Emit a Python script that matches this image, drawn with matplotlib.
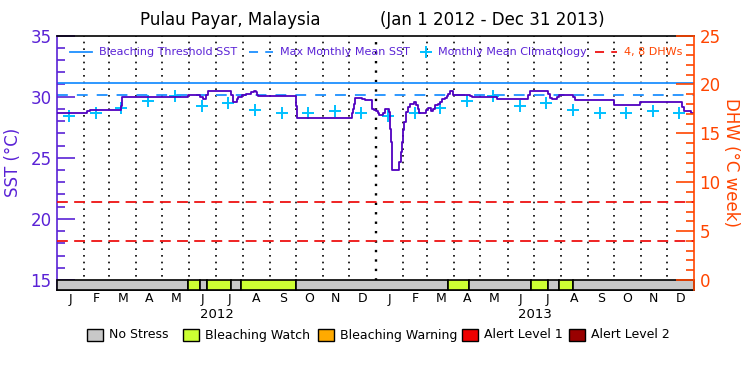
import numpy as np
import pandas as pd
import matplotlib
matplotlib.use('Agg')
import matplotlib.pyplot as plt
import matplotlib.transforms as mtransforms
from matplotlib.patches import Rectangle
from matplotlib.lines import Line2D

# SST en días desde el 1 ene 2012
sst_day = [0, 34, 38, 73, 75, 150, 159, 164, 167, 171, 173, 200, 202, 206, 208,
           212, 214, 217, 221, 223, 226, 228, 230, 231, 274, 275, 338, 339, 340,
           341, 342, 350, 353, 361, 362, 364, 366, 368, 370, 374, 376, 380, 381,
           382, 383, 384, 393, 395, 396, 397, 398, 400, 403, 405, 410, 412, 414,
           416, 424, 426, 429, 431, 434, 437, 440, 442, 445, 447, 449, 451, 453,
           455, 465, 474, 476, 505, 541, 543, 564, 566, 568, 571, 574, 576, 579,
           592, 594, 599, 639, 667, 669, 717, 719, 728, 731]
sst_val = [28.7, 28.8, 28.9, 29.25, 30.0, 30.1, 30.15, 29.95, 29.8, 30.1, 30.5,
           30.1, 29.57, 29.8, 29.95, 30.1, 30.15, 30.2, 30.22, 30.38, 30.5, 30.38,
           30.1, 30.05, 29.2, 28.25, 28.25, 28.62, 29.02, 29.43, 29.9, 29.79,
           29.71, 29.57, 29.02, 28.89, 28.81, 28.62, 28.48, 28.62, 28.97, 29.02,
           28.75, 27.39, 26.3, 24.0, 24.67, 25.48, 26.3, 27.25, 27.93, 28.75,
           29.16, 29.43, 29.57, 29.3, 29.02, 28.7, 28.89, 29.08, 28.81, 29.02,
           29.3, 29.43, 29.57, 29.79, 29.9, 30.07, 30.25, 30.5, 30.44, 30.17,
           30.1, 30.07, 29.95, 29.79, 30.1, 30.5, 30.25, 29.9, 29.79, 29.84,
           29.98, 30.1, 30.15, 29.98, 29.71, 29.76, 29.3, 29.35, 29.52, 29.16,
           28.81, 28.62, 28.62]

# climatología mensual (ene..dic)
clim_val = [28.42, 28.67, 29.08, 29.65, 30.09, 29.24, 29.44, 28.91, 28.70, 28.70, 28.83, 28.70]
mmm = 30.1
umbral = 31.1
dhw_niveles = [4, 8]

# barra de estrés (bordes en días, nivel por tramo)
estres_bordes = [0, 150, 164, 172, 200, 211, 274, 449, 473, 544, 564, 576, 592, 731]
estres_nivel = [0, 1, 0, 1, 0, 1, 0, 1, 0, 1, 0, 1, 0]
estres_nombres = ['No Stress', 'Bleaching Watch', 'Bleaching Warning', 'Alert Level 1', 'Alert Level 2']
estres_colores = ['#c8c8c8', '#ccff33', '#ffaa00', '#ee0000', '#990000']

inicio = pd.Timestamp('2012-01-01')
meses = pd.date_range('2012-01-01', '2014-01-01', freq='MS')
dias_mes = [(m - inicio).days for m in meses]
dias_clim = [(m + pd.Timedelta(days=14) - inicio).days for m in meses[:-1]]
total = dias_mes[-1]

morado = '#5a22d6'
linea_sst = '#5000c0'
azul = '#1e90ff'
cian = '#00c0ff'
naranja = '#ff4500'
rojo = '#ee1111'

ymin, ymax = 14.18, 35.0
fig = plt.figure(figsize=(7.5, 3.75), dpi=100)
fig.subplots_adjust(left=0.076, right=0.9253, top=0.9053, bottom=0.2267)
ax = fig.add_subplot(111)
ax2 = ax.twinx()

ax.set_xlim(0, total)
ax.set_ylim(ymin, ymax)
ax2.set_ylim((ymin - 15) * 1.25, (ymax - 15) * 1.25)

# líneas de meses punteadas
for d in dias_mes[1:-1]:
    grueso = 1.7 if d == 366 else 1.2
    ax.axvline(d, color='black', ls=(0, (1, 3)), lw=grueso, zorder=1)

ax.axhline(umbral, color=azul, lw=1.3, zorder=2)
ax.axhline(mmm, color=azul, lw=1.3, ls=(0, (6, 5)), zorder=2)
for n in dhw_niveles:
    ax2.axhline(n, color=rojo, lw=1.3, ls=(0, (6, 3.5)), zorder=2)

ax.plot(dias_clim, clim_val * 2, ls='none', marker='+', ms=9, mew=1.4, color=cian, zorder=3)
ax.plot(sst_day, sst_val, drawstyle='steps-post', color=linea_sst, lw=1.3, zorder=4)

# barra de estrés
for i, nivel in enumerate(estres_nivel):
    ax.add_patch(Rectangle((estres_bordes[i], ymin), estres_bordes[i + 1] - estres_bordes[i], 15 - ymin,
                           facecolor=estres_colores[nivel], edgecolor='black', lw=1.2, zorder=5, clip_on=False))

# ejes
for s in ['top', 'bottom']:
    ax.spines[s].set_color('black')
    ax.spines[s].set_linewidth(1.2)
ax.spines['left'].set_color(morado)
ax.spines['left'].set_linewidth(1.2)
ax.spines['right'].set_visible(False)
ax2.spines['right'].set_color(naranja)
ax2.spines['right'].set_linewidth(1.2)
for s in ['top', 'bottom', 'left']:
    ax2.spines[s].set_visible(False)

ax.set_yticks([15, 20, 25, 30, 35])
ax.set_yticks(np.arange(15, 36, 1), minor=True)
ax.tick_params(axis='y', which='major', direction='in', length=13, width=1.2, colors=morado, labelsize=12, pad=4)
ax.tick_params(axis='y', which='minor', direction='in', length=6, width=1.2, colors=morado)
ax2.set_yticks([0, 5, 10, 15, 20, 25])
ax2.set_yticks(np.arange(0, 26, 1), minor=True)
ax2.tick_params(axis='y', which='major', direction='in', length=13, width=1.2, colors=naranja, labelsize=12, pad=4)
ax2.tick_params(axis='y', which='minor', direction='in', length=6, width=1.2, colors=naranja)
ax.set_xticks([])

ax.set_ylabel('SST (°C)', color=morado, fontsize=12, labelpad=6)
ax2.set_ylabel('DHW (°C week)', color=naranja, fontsize=12, rotation=-90, labelpad=14)

# etiquetas de meses y años
tr = mtransforms.blended_transform_factory(ax.transData, fig.transFigure)
for i, m in enumerate(meses[:-1]):
    centro = (dias_mes[i] + dias_mes[i + 1]) / 2
    ax.text(centro, 1 - 299 / 375, m.strftime('%b')[0], transform=tr, ha='center', va='center', fontsize=9)
ax.text(366 / 2, 1 - 315 / 375, '2012', transform=tr, ha='center', va='center', fontsize=9.5)
ax.text((366 + total) / 2, 1 - 315 / 375, '2013', transform=tr, ha='center', va='center', fontsize=9.5)

# título
fig.text(230.5 / 750, 1 - 20 / 375, 'Pulau Payar, Malaysia', ha='center', va='center', fontsize=12)
fig.text(492.5 / 750, 1 - 20 / 375, '(Jan 1 2012 - Dec 31 2013)', ha='center', va='center', fontsize=12)

# leyenda superior
yl = 1 - 51.7 / 375
fig.add_artist(Line2D([70 / 750, 92 / 750], [yl, yl], color=azul, lw=1.3, transform=fig.transFigure))
fig.text(99 / 750, yl, 'Bleaching Threshold SST', color=morado, fontsize=8, va='center')
fig.add_artist(Line2D([249 / 750, 273 / 750], [yl, yl], color=azul, lw=1.3, ls=(0, (5, 4)), transform=fig.transFigure))
fig.text(280 / 750, yl, 'Max Monthly Mean SST', color=morado, fontsize=8, va='center')
fig.add_artist(Line2D([426 / 750], [yl], color=cian, marker='+', ms=8, mew=1.4, ls='none', transform=fig.transFigure))
fig.text(438 / 750, yl, 'Monthly Mean Climatology', color=morado, fontsize=8, va='center')
fig.add_artist(Line2D([595 / 750, 617 / 750], [yl, yl], color=rojo, lw=1.3, ls=(0, (5, 4)), transform=fig.transFigure))
fig.text(624 / 750, yl, '4, 8 DHWs', color=naranja, fontsize=8, va='center')

# leyenda inferior
yb = 1 - 335 / 375
xs = [87, 183, 317.7, 461.7, 569.3]
for x, nombre, c in zip(xs, estres_nombres, estres_colores):
    fig.add_artist(Rectangle((x / 750, yb - 0.0156), 16 / 750, 0.0312, facecolor=c, edgecolor='black',
                             lw=1, transform=fig.transFigure))
    fig.text((x + 22) / 750, yb, nombre, fontsize=9, va='center')

fig.savefig('out.png', dpi=100)
